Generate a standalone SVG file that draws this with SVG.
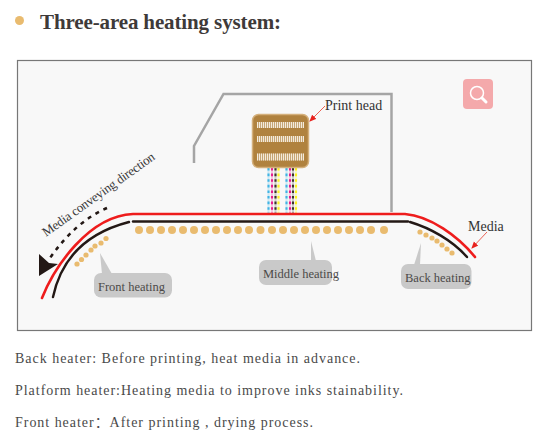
<svg xmlns="http://www.w3.org/2000/svg" width="546" height="439" viewBox="0 0 546 439">
<style>
text{font-family:"Liberation Serif","Noto Sans CJK SC",serif;fill:#3e3a39}
.lbl{font-size:12.5px;fill:#4c4948}
.cap{font-size:14px;fill:#333}
.rot{font-size:13px;fill:#3a3a3a}
.body{font-size:14px;fill:#4a4a4a}
.hd{fill:#e9bb6f}
.tag{fill:#c9c9c9}
.red{fill:none;stroke:#ee1c1c;stroke-width:2.6;stroke-linecap:round}
.blk{fill:none;stroke:#231815;stroke-width:2.4;stroke-linecap:round}
.lead{fill:none;stroke:#e8503f;stroke-width:.9}
.noz{stroke:#f3eadb;stroke-dasharray:1 1;fill:none}
.bar{fill:#f3eadb;opacity:.35}
.ink{stroke-width:2.1;stroke-dasharray:2.6 3;fill:none;opacity:.85}
.pale{stroke-width:2.1;opacity:.2;fill:none}
</style>
<defs>
<marker id="ah" markerWidth="7" markerHeight="7" refX="6" refY="3" orient="auto" markerUnits="userSpaceOnUse"><path d="M0 0L7 3L0 6Z" fill="#e8211d"/></marker>
</defs>
<rect width="546" height="439" fill="#fff"/>
<g id="title">
<circle cx="19.500" cy="20.500" r="4.500" fill="#e9bb6f"/>
<text x="40" y="29" font-size="21" font-weight="700" textLength="241" lengthAdjust="spacing">Three-area heating system:</text>
</g>
<rect id="panel" x="17.500" y="60.500" width="514" height="270" fill="#f8f8f8" stroke="#777" stroke-width="1.200"/>
<g id="frame"><polyline points="194,163 194,146 223.500,94 391.500,94 391.500,212" fill="none" stroke="#a5a5a5" stroke-width="2.500"/></g>
<g id="ink">
<g class="pale">
<path stroke="#29abe2" d="M268.500 168V213M286.500 168V213"/>
<path stroke="#e6007e" d="M272 168V213M290 168V213"/>
<path stroke="#231815" d="M275.500 168V213M293 168V213"/>
<path stroke="#fff100" d="M278.500 168V213M296 168V213"/>
</g>
<g class="ink">
<path stroke="#29abe2" d="M268.500 168V213M286.500 168V213"/>
<path stroke="#e6007e" d="M272 168V213M290 168V213"/>
<path stroke="#231815" d="M275.500 168V213M293 168V213"/>
<path stroke="#fff100" d="M278.500 168V213M296 168V213"/>
</g>
</g>
<g id="print-head">
<rect x="252.500" y="114.500" width="56" height="53" rx="6" fill="#b0823f" stroke="#d4b07c" stroke-width="1.500"/>
<rect class="bar" x="257" y="122" width="47" height="6"/><rect class="bar" x="257" y="136" width="47" height="6"/><rect class="bar" x="257" y="153.500" width="47" height="7"/>
<path class="noz" stroke-width="6" d="M257 125H304M257 139H304"/>
<path class="noz" stroke-width="7" d="M257 157H304"/>
<text class="cap" x="325" y="110">Print head</text>
<path class="lead" marker-end="url(#ah)" d="M325 106L310 121"/>
</g>
<g id="connectors">
<path class="red" d="M42 298C54 268 88 216 133 214H405C430 216 458 236 475 257"/>
<path class="blk" d="M53 297C62 255 90 232 129 222"/>
<path class="blk" d="M133 221.500H408"/>
<path class="blk" d="M410 222C430 228 452 240 467 257"/>
<path d="M107 208Q75 222 50 258" fill="none" stroke="#231815" stroke-width="2.500" stroke-dasharray="4 5"/>
<path d="M39 254L49 263L58 264L39 276Z" fill="#231815"/>
</g>
<text class="rot" transform="translate(46 237) rotate(-35.500)" textLength="135" lengthAdjust="spacing">Media conveying direction</text>
<g id="middle-heating">
<g class="hd"><circle cx="139" cy="230" r="4"/><circle cx="150" cy="230" r="4"/><circle cx="161" cy="230" r="4"/><circle cx="172" cy="230" r="4"/><circle cx="183" cy="230" r="4"/><circle cx="194" cy="230" r="4"/><circle cx="205" cy="230" r="4"/><circle cx="216" cy="230" r="4"/><circle cx="227" cy="230" r="4"/><circle cx="238" cy="230" r="4"/><circle cx="249" cy="230" r="4"/><circle cx="260.500" cy="230" r="4"/><circle cx="272" cy="230" r="4"/><circle cx="283" cy="230" r="4"/><circle cx="294" cy="230" r="4"/><circle cx="305" cy="230" r="4"/><circle cx="316" cy="230" r="4"/><circle cx="327" cy="230" r="4"/><circle cx="338" cy="230" r="4"/><circle cx="349" cy="230" r="4"/><circle cx="360" cy="230" r="4"/><circle cx="371" cy="230" r="4"/><circle cx="384" cy="230" r="4"/></g>
<path class="tag" d="M311 241L316 261H311Z"/>
<rect class="tag" x="259" y="260" width="73" height="25" rx="7"/>
<text class="lbl" x="263" y="278">Middle heating</text>
</g>
<g id="front-heating">
<g class="hd"><circle cx="77" cy="264" r="2.600"/><circle cx="81.500" cy="259.500" r="2.600"/><circle cx="86" cy="255" r="2.600"/><circle cx="91" cy="250" r="2.600"/><circle cx="95" cy="246" r="2.600"/><circle cx="101" cy="243" r="2.600"/><circle cx="106" cy="238.500" r="2.600"/></g>
<path class="tag" d="M100 253L102 274H112Z"/>
<rect class="tag" x="94" y="273" width="78" height="24.500" rx="7"/>
<text class="lbl" x="98" y="291">Front heating</text>
</g>
<g id="back-heating">
<g class="hd"><circle cx="420" cy="232" r="2.600"/><circle cx="426" cy="235" r="2.600"/><circle cx="432" cy="238" r="2.600"/><circle cx="437" cy="241" r="2.600"/><circle cx="442" cy="245" r="2.600"/><circle cx="447" cy="249" r="2.600"/><circle cx="452" cy="253" r="2.600"/></g>
<path class="tag" d="M421 243L414 265H420Z"/>
<rect class="tag" x="401" y="264" width="70.500" height="25" rx="7"/>
<text class="lbl" x="405" y="282">Back heating</text>
</g>
<g id="media">
<text class="cap" x="468" y="231">Media</text>
<path class="lead" marker-end="url(#ah)" d="M487 232L472 248"/>
</g>
<g id="search">
<rect x="463" y="79" width="30" height="30" rx="4" fill="#f4a9ab"/>
<circle cx="477" cy="93" r="6.500" fill="none" stroke="#fff" stroke-width="1.500"/>
<path d="M482 98L486 102" stroke="#fff" stroke-width="3" stroke-linecap="round"/>
</g>
<g id="notes">
<text class="body" x="15" y="363" textLength="345" lengthAdjust="spacing">Back heater: Before printing, heat media in advance.</text>
<text class="body" x="15" y="395" textLength="388" lengthAdjust="spacing">Platform heater:Heating media to improve inks stainability.</text>
<text class="body" x="15" y="427" textLength="298" lengthAdjust="spacing">Front heater：After printing , drying process.</text>
</g>
</svg>
